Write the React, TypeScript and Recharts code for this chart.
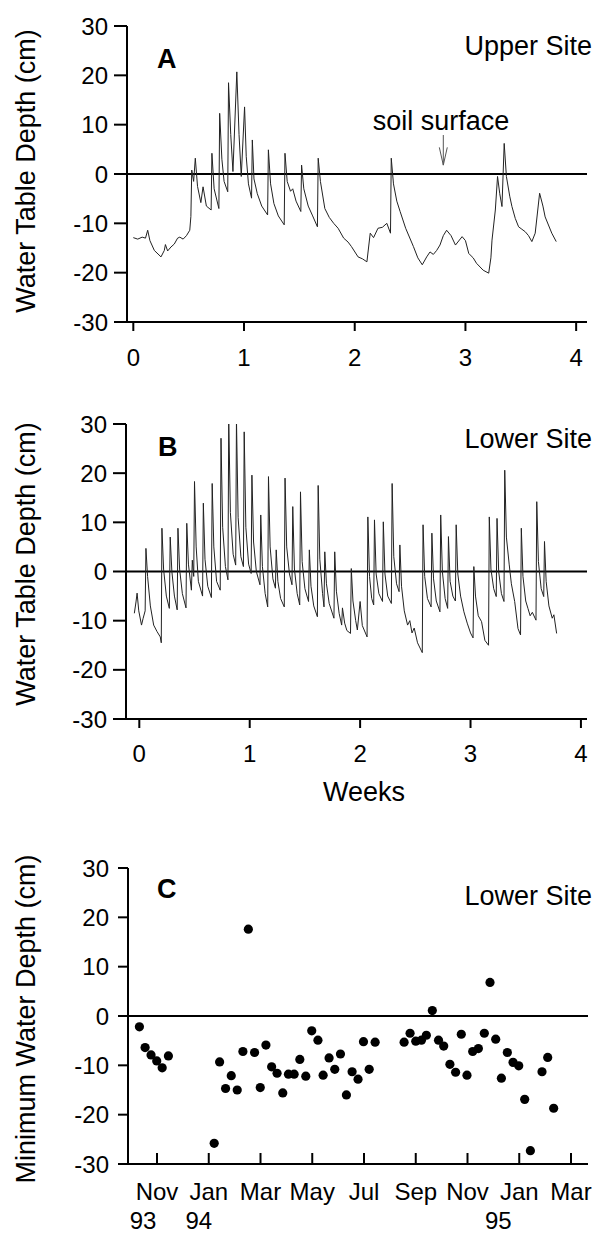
import React from 'react';
import { LineChart, Line, XAxis, YAxis, ReferenceLine, ScatterChart, Scatter } from 'recharts';

const FONT = '"Liberation Sans", Arial, Helvetica, sans-serif';

// Panel A: Upper site, [week, water table depth cm]
const upperSite: [number, number][] = [
  [0.0, -12.9], [0.04, -13.2], [0.08, -12.8], [0.11, -13.0], [0.13, -11.4], [0.15, -13.5], [0.19, -15.5],
  [0.25, -16.8], [0.28, -15.5], [0.29, -14.3], [0.31, -15.6], [0.34, -14.8], [0.37, -14.2], [0.4, -13.0],
  [0.42, -12.8], [0.45, -13.2], [0.48, -12.5], [0.51, -11.4], [0.52, -8.6], [0.528, 0.8], [0.545, -1.5],
  [0.56, 3.2], [0.58, -2.5], [0.61, -5.8], [0.63, -2.6], [0.66, -6.5], [0.703, -7.3], [0.71, 4.2],
  [0.73, -3.0], [0.773, -7.0], [0.78, 12.3], [0.8, 3.0], [0.82, -1.5], [0.853, -3.6], [0.86, 18.5],
  [0.88, 8.0], [0.9, 0.5], [0.935, 20.7], [0.955, 8.0], [0.975, -0.5], [1.005, 13.6], [1.02, 3.5],
  [1.04, -2.0], [1.068, -4.9], [1.075, 6.9], [1.09, -1.0], [1.12, -4.0], [1.16, -6.5], [1.213, -8.3],
  [1.22, 4.9], [1.24, -2.0], [1.27, -6.0], [1.31, -8.5], [1.363, -10.3], [1.37, 4.2], [1.39, -1.5],
  [1.42, -3.5], [1.44, -3.0], [1.47, -5.5], [1.513, -7.6], [1.52, 1.8], [1.54, -3.0], [1.58, -6.5],
  [1.62, -8.5], [1.663, -10.7], [1.67, 3.2], [1.69, -1.5], [1.73, -7.0], [1.77, -8.8], [1.81, -10.0],
  [1.85, -11.0], [1.9, -13.0], [1.94, -13.8], [1.97, -14.7], [2.03, -16.8], [2.07, -17.2], [2.11, -17.8],
  [2.14, -12.0], [2.17, -12.9], [2.21, -11.0], [2.25, -10.8], [2.29, -10.0], [2.323, -12.0], [2.33, 3.2],
  [2.35, -2.0], [2.38, -5.5], [2.41, -7.6], [2.46, -11.0], [2.53, -14.7], [2.57, -17.0], [2.61, -18.4],
  [2.65, -16.8], [2.68, -15.8], [2.71, -16.3], [2.74, -15.5], [2.77, -14.4], [2.8, -12.5], [2.83, -11.4],
  [2.87, -12.5], [2.91, -14.4], [2.97, -12.7], [3.0, -13.5], [3.03, -16.1], [3.07, -17.0], [3.1, -18.1],
  [3.16, -19.5], [3.21, -20.1], [3.23, -17.0], [3.24, -13.4], [3.27, -7.3], [3.29, -0.5], [3.31, -4.0],
  [3.33, -6.6], [3.35, 6.2], [3.37, -0.5], [3.4, -4.5], [3.42, -6.6], [3.45, -9.0], [3.48, -10.7],
  [3.51, -11.2], [3.54, -11.7], [3.57, -12.5], [3.6, -13.7], [3.63, -12.0], [3.67, -3.9], [3.7, -6.5],
  [3.72, -8.7], [3.78, -12.0], [3.82, -13.7],
];

// Panel B: Lower site, [week, water table depth cm]
const lowerSite: [number, number][] = [
  [-0.045, -8.5], [-0.03, -6.2], [-0.02, -4.4], [-0.005, -8.0], [0.02, -10.9], [0.035, -9.5], [0.053, -8.0],
  [0.06, 4.7], [0.075, -1.0], [0.1, -7.0], [0.13, -10.9], [0.16, -12.2], [0.19, -13.3], [0.199, -14.5],
  [0.205, 8.8], [0.22, 0.5], [0.245, -5.0], [0.272, -7.5], [0.28, 7.0], [0.295, 0.0], [0.318, -5.0],
  [0.343, -7.8], [0.35, 8.8], [0.365, 0.5], [0.39, -4.5], [0.423, -7.4], [0.43, 9.8], [0.445, 1.5],
  [0.472, -3.8], [0.48, 2.3], [0.493, -1.0], [0.5, 18.3], [0.515, 5.0], [0.535, -2.0], [0.573, -5.0],
  [0.58, 13.9], [0.595, 2.5], [0.62, -3.0], [0.653, -5.3], [0.66, 17.9], [0.675, 5.0], [0.7, -2.0],
  [0.733, -3.8], [0.74, 27.1], [0.755, 9.0], [0.78, 1.0], [0.803, -1.7], [0.81, 31], [0.825, 12.0],
  [0.85, 3.5], [0.873, 1.3], [0.88, 31], [0.895, 11.0], [0.92, 3.0], [0.943, 1.0], [0.95, 28.4],
  [0.965, 9.0], [0.99, 1.5], [1.013, -0.4], [1.02, 19.6], [1.035, 6.0], [1.06, 0.0], [1.093, -2.7],
  [1.1, 11.5], [1.115, 1.0], [1.14, -4.5], [1.163, -7.2], [1.17, 19.3], [1.185, 5.0], [1.21, -1.5],
  [1.233, -3.4], [1.24, 4.4], [1.255, -2.0], [1.28, -5.5], [1.313, -7.2], [1.32, 19.0], [1.335, 5.0],
  [1.36, -0.5], [1.383, -2.7], [1.39, 13.2], [1.405, 0.5], [1.43, -4.5], [1.453, -6.8], [1.46, 16.2],
  [1.475, 2.0], [1.5, -3.5], [1.533, -6.1], [1.54, 4.4], [1.555, -3.0], [1.58, -7.0], [1.613, -9.2],
  [1.62, 17.5], [1.635, 2.5], [1.66, -4.5], [1.673, -7.2], [1.68, 4.0], [1.695, -2.5], [1.72, -6.5],
  [1.763, -9.5], [1.77, 4.0], [1.785, -4.0], [1.81, -8.5], [1.833, -10.9], [1.84, -7.4], [1.86, -10.5],
  [1.88, -12.0], [1.913, -12.6], [1.92, 0.6], [1.935, -6.0], [1.96, -10.0], [1.975, -11.9], [2.0, -6.1],
  [2.02, -11.0], [2.063, -13.3], [2.07, 11.1], [2.085, -1.0], [2.105, -5.5], [2.123, -6.8], [2.13, 10.5],
  [2.145, -0.5], [2.17, -4.5], [2.203, -6.1], [2.21, 10.1], [2.225, -0.5], [2.25, -5.0], [2.283, -6.5],
  [2.29, 17.9], [2.305, 3.0], [2.33, -2.5], [2.353, -4.1], [2.36, 5.4], [2.375, -3.0], [2.4, -8.0],
  [2.43, -10.9], [2.45, -10.0], [2.47, -12.5], [2.49, -11.5], [2.52, -14.5], [2.563, -16.5], [2.57, 9.5],
  [2.585, -1.0], [2.61, -5.5], [2.643, -7.2], [2.65, 7.8], [2.665, -1.5], [2.69, -6.0], [2.723, -8.2],
  [2.73, 11.5], [2.745, 0.0], [2.77, -5.5], [2.793, -7.5], [2.8, 7.1], [2.815, -2.0], [2.84, -5.0],
  [2.863, -6.0], [2.87, 9.5], [2.885, -0.5], [2.91, -5.0], [2.94, -8.2], [2.97, -10.5], [3.0, -12.5],
  [3.023, -13.5], [3.03, 1.0], [3.045, -5.0], [3.07, -9.0], [3.1, -10.2], [3.13, -14.0], [3.163, -15.0],
  [3.17, 11.1], [3.185, 0.5], [3.21, -3.5], [3.233, -5.1], [3.24, 10.8], [3.255, 0.0], [3.28, -4.5],
  [3.303, -6.1], [3.31, 20.6], [3.325, 7.0], [3.35, 1.5], [3.37, -2.5], [3.4, -6.1], [3.43, -11.6],
  [3.453, -12.9], [3.46, 8.8], [3.475, -1.0], [3.5, -6.0], [3.52, -7.5], [3.54, -9.0], [3.56, -8.3],
  [3.593, -9.9], [3.6, 14.2], [3.615, 2.0], [3.64, -3.5], [3.663, -5.1], [3.67, 6.1], [3.685, -2.0],
  [3.71, -7.0], [3.74, -9.5], [3.755, -8.8], [3.78, -12.6],
];

// Panel C: [months since Nov 1993, minimum water depth cm]
const minimumDepth: [number, number][] = [
  [-0.68, -2.2], [-0.46, -6.4], [-0.23, -7.9], [-0.01, -9.1], [0.2, -10.5], [0.44, -8.1],
  [2.21, -25.8], [2.42, -9.3], [2.65, -14.7], [2.87, -12.1], [3.1, -15.0], [3.32, -7.2], [3.53, 17.6],
  [3.77, -7.4], [3.99, -14.5], [4.21, -5.9], [4.43, -10.3], [4.64, -11.6], [4.86, -15.6], [5.08, -11.8],
  [5.3, -11.8], [5.52, -8.8], [5.75, -12.2], [5.98, -3.0], [6.22, -4.9], [6.42, -12.0], [6.65, -8.5],
  [6.87, -10.8], [7.09, -7.7], [7.32, -16.0], [7.54, -11.3], [7.77, -12.8], [7.98, -5.2], [8.2, -10.8],
  [8.43, -5.3], [9.55, -5.3], [9.78, -3.5], [10.0, -5.1], [10.22, -4.9], [10.41, -3.9], [10.64, 1.1],
  [10.88, -4.9], [11.08, -6.1], [11.32, -9.8], [11.54, -11.4], [11.76, -3.7], [11.98, -12.0],
  [12.2, -7.2], [12.42, -6.6], [12.65, -3.5], [12.87, 6.8], [13.09, -4.7], [13.31, -12.6], [13.54, -7.4],
  [13.76, -9.4], [13.98, -10.1], [14.21, -16.9], [14.43, -27.3], [14.88, -11.3], [15.1, -8.4],
  [15.33, -18.7],
];

const depthTicks = [-30, -20, -10, 0, 10, 20, 30];
const weekTicks = [0, 1, 2, 3, 4];
const monthTicks = [0, 2, 4, 6, 8, 10, 12, 14, 16];
const monthLabels = ['Nov', 'Jan', 'Mar', 'May', 'Jul', 'Sep', 'Nov', 'Jan', 'Mar'];
const yearLabels = ['93', '94', '', '', '', '', '', '95', ''];

const dataA = upperSite.map(([w, d]) => ({ w, d }));
const dataB = lowerSite.map(([w, d]) => ({ w, d }));
const dataC = minimumDepth.map(([m, d]) => ({ m, d }));

const TICK_FONT = 24;
const TITLE_FONT = 27;
const axisStyle = { stroke: '#000', strokeWidth: 2 };
const tickStyle = { fontSize: TICK_FONT, fill: '#000', fontFamily: FONT };

const T = (props: any) => (
  <text fontFamily={FONT} fill="#000" {...props} />
);

const VLabel = ({ x, y, text }: { x: number; y: number; text: string }) => (
  <text
    x={x}
    y={y}
    transform={`rotate(-90, ${x}, ${y})`}
    textAnchor="middle"
    dominantBaseline="central"
    fontFamily={FONT}
    fontSize={TITLE_FONT}
    fill="#000"
  >
    {text}
  </text>
);

const MonthTick = (props: any) => {
  const { x, y, index } = props;
  const yearDx = [-14, -10, 0, 0, 0, 0, 0, -21, 0][index] || 0;
  return (
    <g>
      <line x1={x} y1={y} x2={x} y2={y - 11} stroke="#000" strokeWidth={2} />
      <text x={x} y={y + 36} textAnchor="middle" fontFamily={FONT} fontSize={TICK_FONT} fill="#000">
        {monthLabels[index]}
      </text>
      {yearLabels[index] ? (
        <text x={x + yearDx} y={y + 65} textAnchor="middle" fontFamily={FONT} fontSize={TICK_FONT} fill="#000">
          {yearLabels[index]}
        </text>
      ) : null}
    </g>
  );
};

const PanelA = () => (
  <div style={{ position: 'absolute', left: 0, top: 0 }}>
    <LineChart width={598} height={382} data={dataA} margin={{ top: 26, right: 11, left: 0, bottom: 0 }}>
      <XAxis
        type="number"
        dataKey="w"
        domain={[-0.057, 4.098]}
        ticks={weekTicks}
        allowDataOverflow
        interval={0}
        height={60}
        tickSize={9}
        tickMargin={18}
        axisLine={axisStyle}
        tickLine={axisStyle}
        tick={tickStyle}
      />
      <YAxis
        type="number"
        domain={[-30, 30]}
        ticks={depthTicks}
        allowDataOverflow
        interval={0}
        width={127}
        tickSize={13}
        tickMargin={6}
        axisLine={axisStyle}
        tickLine={axisStyle}
        tick={tickStyle}
      />
      <ReferenceLine y={0} stroke="#000" strokeWidth={2} />
      <Line type="linear" dataKey="d" stroke="#222" strokeWidth={1} dot={false} isAnimationActive={false} />
      <ReferenceLine segment={[{ x: 2.8, y: 7.9 }, { x: 2.8, y: 1.8 }]} stroke="#555" strokeWidth={1} />
      <ReferenceLine segment={[{ x: 2.764, y: 5.4 }, { x: 2.8, y: 1.8 }]} stroke="#555" strokeWidth={1} />
      <ReferenceLine segment={[{ x: 2.836, y: 5.4 }, { x: 2.8, y: 1.8 }]} stroke="#555" strokeWidth={1} />
      <T x={157} y={68} fontSize={TITLE_FONT} fontWeight="bold">A</T>
      <T x={592} y={55} fontSize={TITLE_FONT} textAnchor="end">Upper Site</T>
      <T x={441} y={130} fontSize={TITLE_FONT} textAnchor="middle">soil surface</T>
      <VLabel x={26} y={171} text="Water Table Depth (cm)" />
    </LineChart>
  </div>
);

const PanelB = () => (
  <div style={{ position: 'absolute', left: 0, top: 400 }}>
    <LineChart width={598} height={409} data={dataB} margin={{ top: 24, right: 11, left: 0, bottom: 0 }}>
      <XAxis
        type="number"
        dataKey="w"
        domain={[-0.1205, 4.055]}
        ticks={weekTicks}
        allowDataOverflow
        interval={0}
        height={90}
        tickSize={9}
        tickMargin={17}
        axisLine={axisStyle}
        tickLine={axisStyle}
        tick={tickStyle}
      />
      <YAxis
        type="number"
        domain={[-30, 30]}
        ticks={depthTicks}
        allowDataOverflow
        interval={0}
        width={126}
        tickSize={13}
        tickMargin={6}
        axisLine={axisStyle}
        tickLine={axisStyle}
        tick={tickStyle}
      />
      <ReferenceLine y={0} stroke="#000" strokeWidth={2} />
      <Line type="linear" dataKey="d" stroke="#222" strokeWidth={1} dot={false} isAnimationActive={false} />
      <T x={158} y={56} fontSize={TITLE_FONT} fontWeight="bold">B</T>
      <T x={592} y={48} fontSize={TITLE_FONT} textAnchor="end">Lower Site</T>
      <T x={364} y={401} fontSize={TITLE_FONT} textAnchor="middle">Weeks</T>
      <VLabel x={26} y={164} text="Water Table Depth (cm)" />
    </LineChart>
  </div>
);

const PanelC = () => (
  <div style={{ position: 'absolute', left: 0, top: 840 }}>
    <ScatterChart width={598} height={393} margin={{ top: 28, right: 10, left: 0, bottom: 0 }}>
      <XAxis
        type="number"
        dataKey="m"
        domain={[-1.121, 16.657]}
        ticks={monthTicks}
        allowDataOverflow
        interval={0}
        height={69}
        tickSize={0}
        tickMargin={0}
        axisLine={axisStyle}
        tickLine={false}
        tick={<MonthTick />}
      />
      <YAxis
        type="number"
        dataKey="d"
        domain={[-30, 30]}
        ticks={depthTicks}
        allowDataOverflow
        interval={0}
        width={128}
        tickSize={10}
        tickMargin={9}
        axisLine={axisStyle}
        tickLine={axisStyle}
        tick={tickStyle}
      />
      <ReferenceLine y={0} stroke="#000" strokeWidth={2} />
      <Scatter data={dataC} fill="#000" isAnimationActive={false}
        shape={(p: any) => <circle cx={p.cx} cy={p.cy} r={4.6} fill="#000" />} />
      <T x={157} y={58} fontSize={TITLE_FONT} fontWeight="bold">C</T>
      <T x={592} y={65} fontSize={TITLE_FONT} textAnchor="end">Lower Site</T>
      <VLabel x={26} y={179} text="Minimum Water Depth (cm)" />
    </ScatterChart>
  </div>
);

export default function App() {
  return (
    <div style={{ position: 'absolute', left: 0, top: 0, width: 598, height: 1233, background: '#fff', fontFamily: FONT }}>
      <PanelA />
      <PanelB />
      <PanelC />
    </div>
  );
}
